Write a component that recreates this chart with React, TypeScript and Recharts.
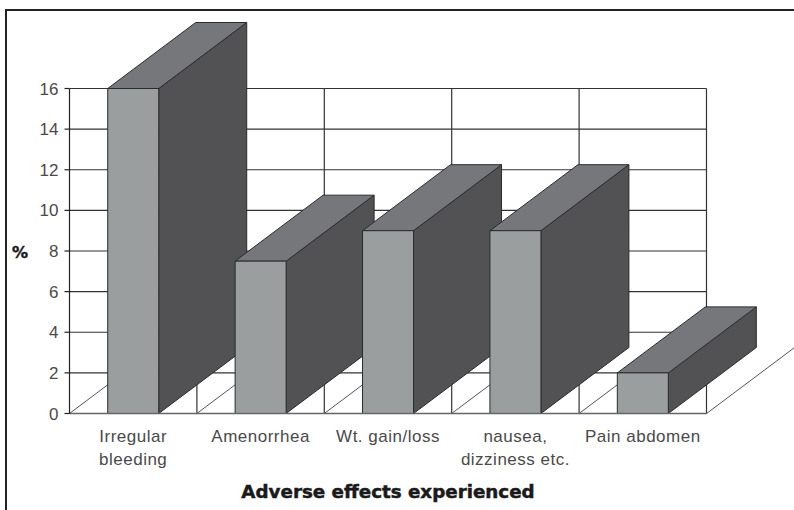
import React from 'react';
import { BarChart, Bar, XAxis, YAxis, CartesianGrid } from 'recharts';

const categories = ['Irregular bleeding', 'Amenorrhea', 'Wt. gain/loss', 'nausea, dizziness etc.', 'Pain abdomen'];
const tickLines = [['Irregular', 'bleeding'], ['Amenorrhea'], ['Wt. gain/loss'], ['nausea,', 'dizziness etc.'], ['Pain abdomen']];
const values = [16, 7.5, 9, 9, 2];
const yTicks = [0, 2, 4, 6, 8, 10, 12, 14, 16];

const chartData = categories.map((name, i) => ({ name, value: values[i] }));

const DEPTH_X = 88;
const DEPTH_Y = 66;
const GAP = 0.3;
const LABEL_FONT = '"Liberation Sans", Arial, sans-serif';

// 3D look: floor diagonal first, then side, top and front faces
const Bar3D = (props: any) => {
  const { x, y, width, height, index } = props;
  const bottom = y + height;
  const gap = (width / (1 - 2 * GAP)) * GAP;
  const floorLeft = x - gap;
  const floorRight = x + width + gap;
  const edge = '#2b2b2d';
  return (
    <g>
      <line x1={floorLeft} y1={bottom} x2={floorLeft + DEPTH_X} y2={bottom - DEPTH_Y} stroke="#555" strokeWidth={1} />
      {index === values.length - 1 && (
        <line x1={floorRight} y1={bottom} x2={floorRight + DEPTH_X} y2={bottom - DEPTH_Y} stroke="#555" strokeWidth={1} />
      )}
      <polygon
        points={`${x + width},${y} ${x + width + DEPTH_X},${y - DEPTH_Y} ${x + width + DEPTH_X},${bottom - DEPTH_Y} ${x + width},${bottom}`}
        fill="#525254"
        stroke={edge}
        strokeWidth={1}
      />
      <polygon
        points={`${x},${y} ${x + DEPTH_X},${y - DEPTH_Y} ${x + width + DEPTH_X},${y - DEPTH_Y} ${x + width},${y}`}
        fill="#76777a"
        stroke={edge}
        strokeWidth={1}
      />
      <rect x={x} y={y} width={width} height={height} fill="#9b9e9f" stroke={edge} strokeWidth={1} />
    </g>
  );
};

const CategoryTick = ({ x, y, index }: any) => (
  <text textAnchor="middle" fontFamily={LABEL_FONT} fontSize={17} letterSpacing={0.5} fill="#4a4a4a">
    {tickLines[index].map((line, i) => (
      <tspan key={line} x={x} y={y + 20 + i * 23}>
        {line}
      </tspan>
    ))}
  </text>
);

export default function App() {
  return (
    <div style={{ position: 'absolute', left: 0, top: 0, width: 794, height: 510, overflow: 'hidden', background: '#fff' }}>
      <div
        style={{
          position: 'absolute',
          left: 5,
          top: 9,
          right: -5,
          bottom: -5,
          borderLeft: '2.5px solid #222',
          borderTop: '2.5px solid #222',
        }}
      />
      <div style={{ position: 'absolute', left: 0, top: 0 }}>
        <BarChart
          width={794}
          height={510}
          data={chartData}
          barCategoryGap={`${GAP * 100}%`}
          margin={{ top: 88.5, right: 87.5, bottom: 0, left: 0 }}
        >
          <CartesianGrid
            stroke="#333"
            strokeWidth={1.2}
            verticalCoordinatesGenerator={({ offset }: any) =>
              categories.map((_, i) => offset.left + (offset.width * (i + 1)) / categories.length)
            }
          />
          <XAxis
            dataKey="name"
            height={96.5}
            interval={0}
            tickLine={false}
            axisLine={{ stroke: '#666', strokeWidth: 1.5 }}
            tick={<CategoryTick />}
            label={{
              value: 'Adverse effects experienced',
              position: 'bottom',
              offset: -24.5,
              fontFamily: '"DejaVu Sans", sans-serif',
              fontWeight: 'bold',
              fontSize: 18.3,
              fill: '#1a1a1a',
              stroke: '#1a1a1a',
              strokeWidth: 0.5,
            }}
          />
          <YAxis
            width={69.5}
            domain={[0, 16]}
            ticks={yTicks}
            interval={0}
            tickSize={5}
            tickMargin={6}
            axisLine={{ stroke: '#222', strokeWidth: 1.2 }}
            tickLine={{ stroke: '#222', strokeWidth: 1.2 }}
            tick={{ fontFamily: LABEL_FONT, fontSize: 17, fill: '#4a4a4a' }}
            label={{
              value: '%',
              position: 'insideLeft',
              offset: 12,
              dy: 1,
              fontFamily: '"DejaVu Sans", sans-serif',
              fontWeight: 'bold',
              fontSize: 16,
              fill: '#1a1a1a',
              stroke: '#1a1a1a',
              strokeWidth: 0.4,
            }}
          />
          <Bar dataKey="value" isAnimationActive={false} shape={<Bar3D />} />
        </BarChart>
      </div>
    </div>
  );
}
